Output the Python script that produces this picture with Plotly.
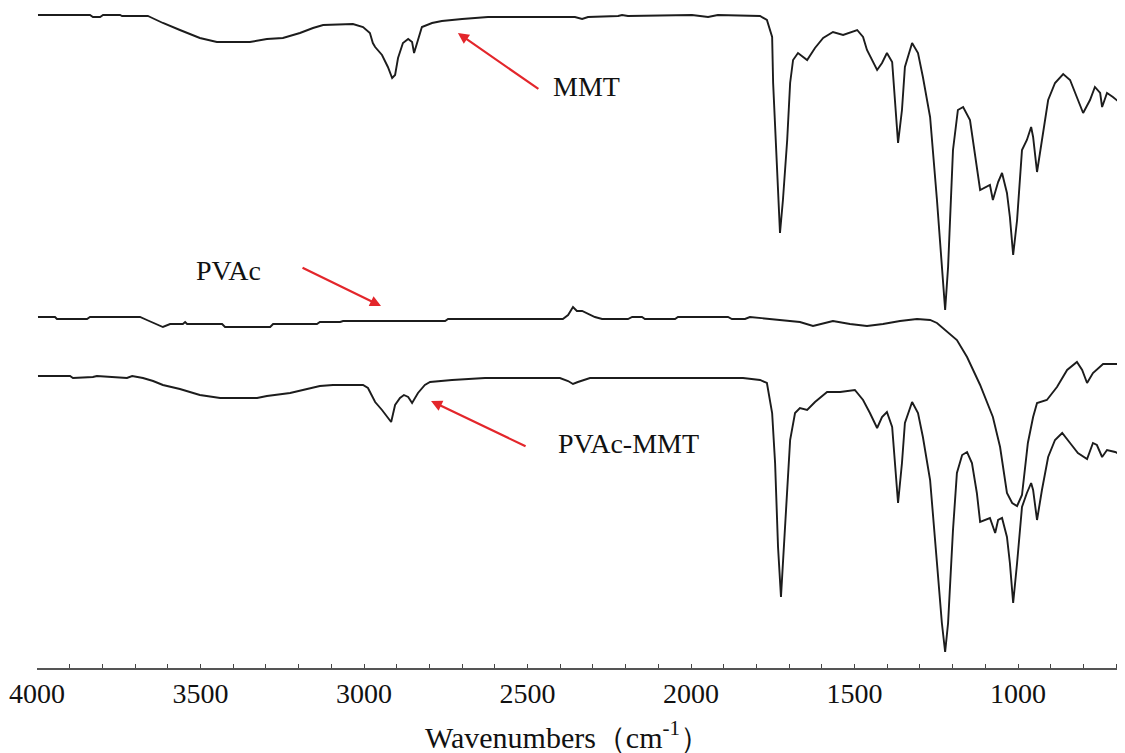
import plotly.graph_objects as go

# ---- data (wavenumber cm-1, offset transmittance a.u.) ----
mmt_wn = [3997, 3838, 3829, 3807, 3798, 3746, 3740, 3661, 3654, 3615, 3563, 3502, 3450, 3349, 3297,
          3248, 3196, 3156, 3125, 3034, 3003, 2982, 2973, 2966, 2945, 2927, 2914, 2905, 2896, 2881,
          2865, 2853, 2847, 2835, 2823, 2792, 2762, 2700, 2621, 2355, 2333, 2315, 2223, 2211, 2193,
          1997, 1948, 1918, 1789, 1768, 1752, 1749, 1737, 1728, 1719, 1706, 1697, 1688, 1673, 1645,
          1621, 1596, 1566, 1535, 1492, 1474, 1462, 1431, 1416, 1401, 1385, 1376, 1367, 1355, 1346,
          1324, 1306, 1291, 1269, 1248, 1233, 1223, 1214, 1199, 1184, 1168, 1147, 1126, 1116, 1086,
          1077, 1061, 1049, 1034, 1025, 1015, 1003, 988, 973, 960, 954, 942, 927, 908, 887,
          862, 841, 820, 801, 780, 765, 749, 743, 728, 710, 673]
mmt_t = [653, 653, 651, 651, 653, 653, 652, 652, 651, 645, 638, 630, 626, 626, 629,
         630, 635, 640, 643, 644, 641, 635, 625, 621, 613, 601, 590, 593, 610, 625,
         629, 626, 615, 628, 641, 645, 647, 649, 651, 651, 649, 651, 652, 653, 652,
         653, 651, 653, 652, 648, 631, 585, 501, 435, 468, 528, 585, 608, 615, 608,
         620, 630, 636, 633, 638, 631, 618, 598, 605, 615, 606, 568, 525, 558, 601,
         625, 615, 591, 551, 468, 401, 358, 401, 518, 558, 561, 548, 501, 478, 483,
         468, 486, 495, 475, 451, 413, 448, 518, 528, 541, 531, 496, 528, 568, 585,
         594, 588, 571, 555, 568, 581, 575, 561, 575, 571, 561]

pvac_wn = [3997, 3945, 3939, 3847, 3838, 3685, 3664, 3633, 3615, 3593, 3554, 3547, 3541, 3434, 3425,
           3287, 3278, 3144, 3135, 3073, 3064, 2752, 2743, 2392, 2376, 2361, 2349, 2333, 2315, 2294,
           2272, 2193, 2180, 2150, 2141, 2049, 2040, 1887, 1875, 1835, 1820, 1728, 1667, 1627, 1566,
           1514, 1462, 1413, 1361, 1309, 1269, 1248, 1187, 1156, 1116, 1077, 1055, 1034, 1018, 1003,
           988, 970, 954, 942, 912, 881, 850, 820, 804, 789, 771, 740, 673]
pvac_t = [351, 351, 349, 349, 351, 351, 348, 344, 341, 344, 344, 346, 344, 344, 341,
          341, 344, 344, 346, 346, 347, 347, 349, 349, 353, 361, 357, 357, 354, 351,
          349, 349, 351, 351, 349, 349, 351, 351, 349, 349, 351, 348, 346, 342, 347,
          344, 342, 344, 347, 349, 348, 345, 328, 311, 283, 251, 221, 175, 165, 162,
          173, 225, 251, 265, 268, 281, 298, 306, 298, 285, 295, 304, 304]

comp_wn = [3997, 3899, 3890, 3829, 3817, 3755, 3725, 3709, 3676, 3645, 3615, 3563, 3502, 3440, 3327,
           3297, 3226, 3174, 3135, 3095, 3003, 2988, 2976, 2966, 2945, 2927, 2917, 2905, 2890, 2878,
           2865, 2853, 2835, 2814, 2798, 2731, 2630, 2401, 2376, 2361, 2346, 2309, 1841, 1789, 1768,
           1752, 1743, 1734, 1725, 1719, 1706, 1697, 1682, 1667, 1645, 1621, 1584, 1544, 1499, 1474,
           1453, 1431, 1416, 1401, 1385, 1376, 1367, 1355, 1346, 1324, 1306, 1291, 1269, 1248, 1233,
           1223, 1214, 1199, 1187, 1171, 1156, 1141, 1126, 1116, 1086, 1070, 1061, 1049, 1034, 1025,
           1015, 1003, 988, 973, 960, 954, 942, 927, 908, 887, 865, 841, 817, 789, 771,
           759, 743, 728, 703, 673]
comp_t = [292, 292, 290, 291, 292, 291, 290, 292, 290, 287, 283, 279, 273, 270, 270,
          272, 275, 279, 282, 283, 283, 280, 273, 266, 258, 250, 246, 263, 270, 273,
          271, 265, 275, 283, 286, 288, 290, 290, 287, 284, 286, 290, 290, 288, 285,
          255, 205, 121, 71, 105, 181, 228, 255, 260, 258, 266, 276, 276, 278, 268,
          255, 240, 251, 256, 241, 205, 165, 205, 245, 266, 255, 231, 188, 105, 45,
          16, 45, 138, 195, 213, 216, 205, 175, 146, 150, 135, 148, 150, 131, 105,
          65, 105, 161, 175, 185, 178, 148, 178, 211, 228, 235, 225, 215, 209, 225,
          223, 211, 218, 216, 211]

labels = ["MMT", "PVAc", "PVAc-MMT"]
major_ticks = [4000, 3500, 3000, 2500, 2000, 1500, 1000]
x_title = "Wavenumbers\uff08cm<sup>-1</sup>\uff09"

FONT = "'Liberation Serif', 'Times New Roman', serif"
LINE = "#1c1c1c"
RED = "#e3262b"

fig = go.Figure()
for wn, t in [(mmt_wn, mmt_t), (pvac_wn, pvac_t), (comp_wn, comp_t)]:
    fig.add_trace(go.Scatter(x=wn, y=t, mode="lines",
                             line=dict(color=LINE, width=1.9, shape="linear"),
                             showlegend=False, hoverinfo="skip"))

# text labels
text_pos = [(2321, 582), (3413, 398), (2190, 225)]
for lab, (tx, ty) in zip(labels, text_pos):
    fig.add_annotation(x=tx, y=ty, text=lab, showarrow=False,
                       font=dict(family=FONT, size=28, color="#111111"),
                       xanchor="center", yanchor="middle")

# red arrows (tip in data coords, tail offset in pixels)
arrows = [(2713, 635, 82, 57), (2948, 362, -80, -39), (2795, 267, 96, 46)]
for tx, ty, ax, ay in arrows:
    fig.add_annotation(x=tx, y=ty, ax=ax, ay=ay, text="", showarrow=True,
                       arrowhead=2, arrowsize=1.0, arrowwidth=2.2, arrowcolor=RED,
                       standoff=0, startstandoff=0)

# axis title
fig.add_annotation(xref="paper", yref="paper", x=0.488, y=-0.102, text=x_title,
                   showarrow=False, xanchor="center", yanchor="middle",
                   font=dict(family=FONT, size=30, color="#111111"))

# the page body adds an 8px margin, so the figure is sized to fill the window after it
fig.update_layout(
    width=1117, height=745,
    margin=dict(l=29, r=0, t=0, b=85, autoexpand=False),
    paper_bgcolor="white", plot_bgcolor="white",
    xaxis=dict(range=[4000, 673], showgrid=False, zeroline=False, automargin=False,
               showline=True, linecolor="#555555", linewidth=1.6,
               tickmode="array", tickvals=major_ticks,
               ticks="inside", ticklen=4, tickwidth=1.2, tickcolor="#444444",
               minor=dict(dtick=100, ticks="inside", ticklen=4, tickwidth=1.2,
                          tickcolor="#444444", showgrid=False),
               tickfont=dict(family=FONT, size=28, color="#111111"),
               ticklabelstandoff=0),
    yaxis=dict(range=[0, 660], visible=False, showgrid=False, zeroline=False,
               automargin=False),
)

fig.write_html("out.html")
